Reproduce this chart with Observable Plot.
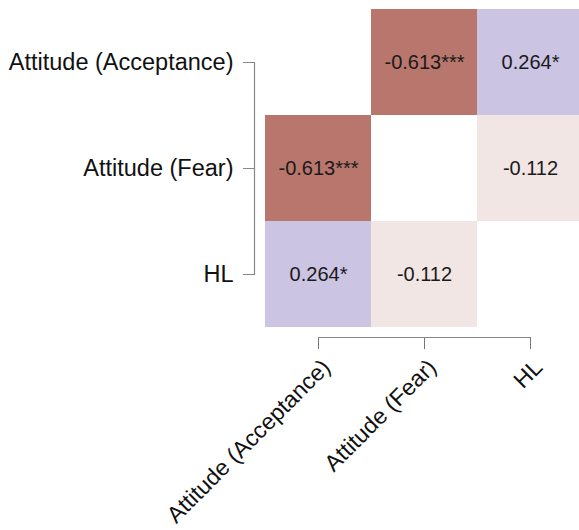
<!DOCTYPE html>
<html><head><meta charset="utf-8">
<script src="https://cdn.jsdelivr.net/npm/d3@7"></script>
<script src="https://cdn.jsdelivr.net/npm/@observablehq/plot@0.6"></script>
<style>body{margin:0;background:#fff}</style>
</head><body><div id="chart"></div>
<script>
const variables = ["Attitude (Acceptance)", "Attitude (Fear)", "HL"];
const cellRow = ["Attitude (Acceptance)", "Attitude (Acceptance)", "Attitude (Fear)", "Attitude (Fear)", "HL", "HL"];
const cellCol = ["Attitude (Fear)", "HL", "Attitude (Acceptance)", "HL", "Attitude (Acceptance)", "Attitude (Fear)"];
const cellR = [-0.613, 0.264, -0.613, -0.112, 0.264, -0.112];
const cellLabel = ["-0.613***", "0.264*", "-0.613***", "-0.112", "0.264*", "-0.112"];
const colorDomain = [-0.613, 0, 0.264];
const colorRange = ["#b9766c", "#ffffff", "#cbc4e2"];

const data = cellR.map((r, i) => ({row: cellRow[i], col: cellCol[i], r, label: cellLabel[i]}));
const font = "'Liberation Sans', Arial, Helvetica, sans-serif";

function brackets(index, scales, values, dims) {
  const bx = scales.x(variables[1]) - scales.x(variables[0]);
  const by = scales.y(variables[1]) - scales.y(variables[0]);
  const yTop = scales.y(variables[0]) + by / 2;
  const yBot = scales.y(variables[variables.length - 1]) + by / 2;
  const xL = scales.x(variables[0]) + bx / 2;
  const xR = scales.x(variables[variables.length - 1]) + bx / 2;
  const ax = dims.marginLeft - 10.5;
  const ay = dims.height - dims.marginBottom + 10.5;
  const g = d3.create("svg:g").attr("stroke", "#888").attr("stroke-width", 1.2).attr("fill", "none");
  g.append("line").attr("x1", ax).attr("x2", ax).attr("y1", yTop).attr("y2", yBot);
  g.append("line").attr("x1", xL).attr("x2", xR).attr("y1", ay).attr("y2", ay);
  return g.node();
}

const chart = Plot.plot({
  width: 579, height: 530,
  marginLeft: 265, marginRight: -4, marginTop: 8, marginBottom: 203,
  style: {fontFamily: font, background: "white", color: "#111"},
  x: {domain: variables, padding: 0, axis: null},
  y: {domain: variables, padding: 0, axis: null},
  color: {type: "linear", domain: colorDomain, range: colorRange, interpolate: "rgb"},
  marks: [
    Plot.cell(data, {x: "col", y: "row", fill: "r", inset: 0}),
    Plot.text(data, {x: "col", y: "row", text: "label", fontSize: 20, fill: "#1a1a1a"}),
    Plot.axisY({anchor: "left", tickSize: 12, tickPadding: 10, dx: -10, fontSize: 23.5, stroke: "#888", fill: "#111", label: null}),
    Plot.axisX({anchor: "bottom", tickSize: 12, dy: 10, tickFormat: () => "", stroke: "#777", label: null}),
    Plot.axisX({anchor: "bottom", tickSize: 12, tickPadding: 6, dx: 8, dy: 18, fontSize: 23, tickRotate: -45, stroke: "none", fill: "#111", label: null}),
    brackets
  ]
});
document.getElementById("chart").appendChild(chart);
</script>
</body></html>
